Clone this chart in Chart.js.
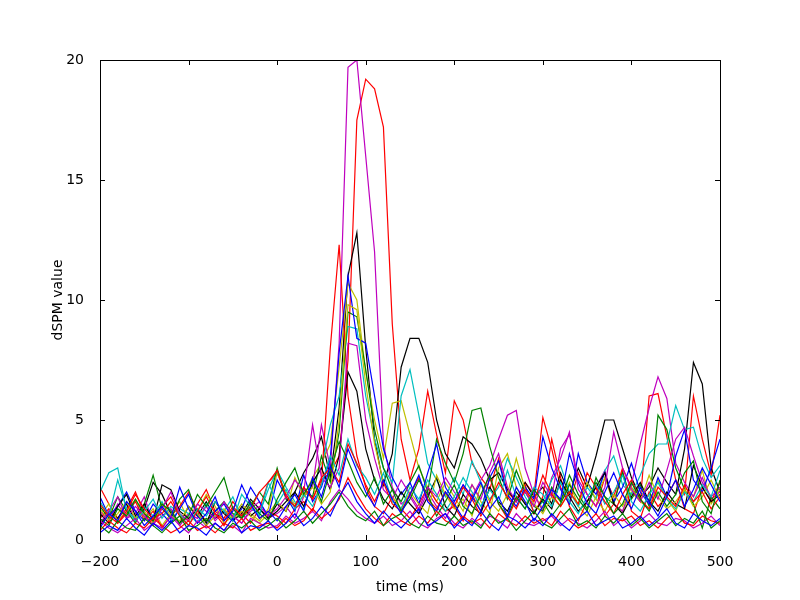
<!DOCTYPE html>
<html>
<head>
<meta charset="utf-8">
<script src="https://cdn.jsdelivr.net/npm/chart.js@4/dist/chart.umd.min.js"></script>
<style>
  body { margin: 0; background: #fff; }
  #chart { display: block; }
</style>
</head>
<body>
<canvas id="chart" width="800" height="600"></canvas>
<script>
// time axis, 10 ms steps from -200 to 500
const times = [];
for (let t = -200; t <= 500; t += 10) times.push(t);

const xTicks = [-200, -100, 0, 100, 200, 300, 400, 500];
const yTicks = [0, 5, 10, 15, 20];

// source time courses
const magentaPeak = [1.2,0.8,1.5,0.9,1.1,1.8,0.7,1.0,1.3,0.6,1.1,0.9,1.4,0.8,1.2,1.0,0.7,1.3,1.6,0.9,
  1.1,1.4,0.9,1.8,2.2,4.8,3.0,8.2,19.7,20.0,16.0,12.0,4.0,2.2,1.5,1.8,1.2,2.0,1.4,0.9,
  1.6,2.3,1.8,2.5,3.1,4.2,5.2,5.4,3.0,1.9, 1.2,2.6,3.4,4.5,2.1,1.6,2.2,2.9,1.5,1.2,
  2.3,4.0,5.5,6.8,5.9,3.2,2.4,1.8,2.6,1.7,2.0];
const redPeak = [2.2,1.5,0.9,1.3,2.0,1.1,0.6,1.4,1.8,1.0,0.8,1.5,2.1,1.2,0.9,1.6,1.1,0.7,1.3,2.4,
  2.8,1.9,1.4,2.2,1.7,2.5,2.8,3.5,7.5,17.5,19.2,18.8,17.2,9.0,4.2,2.5,3.8,6.2,4.4,2.8,
  5.8,5.0,3.2,2.6,2.1,3.4,2.0,1.6,2.4,1.9, 5.1,3.8,2.2,1.5,2.8,1.9,1.4,2.6,1.8,3.0,
  2.2,1.6,6.0,6.1,4.3,2.5,1.9,6.0,4.2,2.7,5.2];
const redEarly = [0.9,1.3,0.7,1.1,1.6,0.8,1.2,0.5,1.0,1.4,2.0,1.2,0.8,1.1,0.6,1.3,1.0,1.5,0.9,1.2,
  1.0,0.7,1.3,1.6,1.2,2.4,8.0,12.3,6.0,3.5,2.2,1.4,1.1,1.8,1.3,0.9,1.5,2.2,1.6,1.2,
  1.4,0.8,1.9,1.2,2.6,1.5,0.9,1.7,2.3,1.1, 1.8,4.2,2.6,1.4,0.8,1.6,2.2,1.0,1.5,2.9,
  1.2,0.9,2.0,1.4,1.8,2.5,1.3,1.1,2.2,1.6,2.4];
const blackPeak = [0.6,1.2,0.9,1.5,0.8,1.3,2.4,1.9,1.1,0.7,1.4,1.0,1.6,0.9,1.2,0.8,1.1,1.7,1.3,0.9,
  1.5,1.2,2.0,2.8,3.4,4.3,2.6,5.5,11.0,12.8,8.0,4.2,2.3,3.6,7.2,8.4,8.4,7.4,5.0,3.6,
  3.0,4.3,4.0,3.4,2.5,2.8,2.1,1.6,2.4,1.8, 2.2,1.5,2.8,1.9,3.0,2.2,3.5,5.0,5.0,3.8,
  2.6,1.8,2.2,3.0,2.4,1.9,3.8,7.4,6.5,3.0,2.0];
const bluePeak = [1.8,1.0,1.4,2.0,1.2,0.8,1.5,1.1,0.7,1.3,1.9,1.0,0.6,1.2,1.5,0.9,1.3,2.2,1.6,1.0,
  2.5,1.8,1.2,2.7,1.6,2.2,3.4,7.8,11.0,8.4,8.2,6.0,3.8,2.6,1.9,2.4,1.5,2.8,4.0,2.2,
  1.6,2.3,1.8,1.2,2.6,3.3,1.9,1.4,2.2,1.7, 4.3,3.0,2.1,1.5,3.6,2.4,1.9,2.8,1.6,2.2,
  3.2,2.0,1.5,2.6,1.8,3.5,4.6,2.5,2.0,3.0,4.2];
const yellowPeak = [1.0,1.5,0.8,1.2,1.7,0.9,1.3,0.6,1.1,1.6,0.8,1.2,1.9,1.4,0.7,1.0,1.5,1.1,0.8,1.3,
  2.8,2.0,1.5,1.8,2.6,3.2,4.0,7.2,10.7,10.0,7.0,5.0,3.4,5.7,5.8,4.4,3.0,2.2,1.6,2.4,
  1.8,1.2,2.3,1.6,1.1,3.0,3.6,2.2,1.5,1.9, 1.3,2.0,1.6,2.4,1.4,1.0,1.8,2.6,1.5,1.2,
  2.0,1.6,1.3,2.5,1.7,1.2,2.2,1.8,2.9,1.5,2.1];
const cyanPeak = [2.0,2.8,3.0,1.2,0.9,1.4,1.0,1.6,0.8,1.3,1.1,0.7,1.5,1.0,1.2,1.8,0.9,1.3,1.1,2.1,
  2.9,2.2,1.6,1.3,2.4,3.0,4.8,6.0,8.9,8.8,6.0,4.2,3.0,2.4,6.0,7.1,5.2,3.2,2.5,1.8,
  2.6,1.9,3.3,2.4,1.7,2.2,3.4,2.6,1.8,1.2, 1.6,2.5,3.1,2.0,1.4,2.2,1.7,2.9,3.5,2.3,
  1.9,2.7,3.6,4.0,4.0,5.6,4.6,4.7,3.4,2.6,3.1];
const greenPeak = [1.4,0.9,1.8,1.2,0.7,1.5,2.7,1.3,0.9,1.7,2.1,1.0,0.8,1.2,1.6,1.1,0.9,1.4,2.0,1.5,
  3.0,1.7,1.4,2.1,1.8,3.5,2.4,4.5,9.5,9.3,7.1,4.6,3.0,2.1,1.6,2.4,3.1,2.0,4.2,3.2,
  2.4,3.6,5.4,5.5,3.9,2.6,1.7,2.9,2.0,1.4, 1.2,2.2,1.6,2.7,1.9,1.3,2.4,1.8,1.5,2.8,
  1.7,2.3,1.4,5.2,4.6,3.0,2.1,1.5,0.5,1.8,1.3];
const blueLow = [0.5,1.1,0.8,1.6,1.2,0.6,1.0,1.4,0.9,2.2,1.3,0.7,1.1,1.8,0.8,1.2,2.3,1.5,0.9,1.2,
  0.8,1.4,1.9,1.2,2.6,1.8,3.1,2.2,3.8,2.9,2.0,1.4,2.5,1.7,1.1,1.9,2.7,1.6,1.2,2.0,
  1.5,0.9,1.7,2.4,1.3,1.8,1.0,2.2,1.6,0.8, 1.4,2.1,1.7,3.6,2.4,1.5,1.1,2.0,2.8,1.9,
  1.3,2.2,1.6,1.0,1.8,2.5,1.4,2.1,3.0,2.3,1.6];
const greenLow = [0.9,0.6,1.3,1.0,1.7,1.1,0.8,1.5,1.2,0.7,1.0,1.9,1.4,2.0,2.6,1.3,0.9,1.6,1.1,0.8,
  1.7,2.4,3.0,1.9,2.5,1.6,2.9,4.1,3.3,2.4,1.8,2.6,1.5,2.1,1.2,1.7,2.5,1.9,1.0,1.6,
  2.3,1.4,1.1,1.9,2.7,1.5,1.0,1.8,1.3,2.1, 1.6,1.0,1.5,2.3,1.7,1.2,2.6,1.8,1.1,1.5,
  2.4,1.7,1.2,2.0,1.4,1.9,2.8,3.3,1.6,1.1,2.5];
const cyanLow = [1.6,1.0,2.5,1.3,0.8,1.2,1.7,0.9,1.4,1.1,0.6,1.3,1.0,1.6,1.2,0.8,1.9,1.4,1.0,2.4,
  1.5,2.1,1.3,1.9,1.4,2.3,3.5,2.7,4.2,3.1,2.6,1.9,2.8,1.6,1.3,2.2,1.7,2.5,1.9,1.2,
  1.8,2.6,2.0,1.4,2.1,1.6,2.9,1.8,1.3,2.2, 1.9,1.4,2.4,1.6,1.1,1.8,2.3,1.5,2.0,2.7,
  1.6,1.2,1.9,2.4,1.7,1.3,2.0,1.6,2.3,1.8,2.9];
const magentaLow = [0.7,1.2,1.8,0.9,1.4,1.0,0.6,1.3,2.0,1.1,0.8,1.5,1.2,0.9,1.6,1.0,0.7,1.2,1.4,1.0,
  1.3,1.8,2.5,2.0,4.8,2.6,2.2,3.0,8.2,8.1,5.0,3.4,2.1,1.7,2.5,1.9,1.3,2.2,1.8,2.6,
  2.0,1.5,2.3,1.7,2.8,3.6,2.2,1.6,2.0,1.4, 2.4,1.8,3.8,4.4,2.5,1.9,1.4,2.2,4.5,3.0,
  2.1,1.6,2.4,1.7,2.9,4.2,4.7,3.5,2.4,1.8,2.2];
const yellowLow = [1.3,0.8,1.1,1.6,0.9,1.2,0.7,1.5,1.0,0.8,1.4,1.1,0.6,1.0,1.3,0.9,1.2,1.0,0.7,1.1,
  1.6,1.2,2.6,1.8,2.2,1.5,2.0,5.0,9.8,9.6,6.5,4.0,2.4,1.8,1.3,2.0,1.5,1.1,2.7,1.9,
  1.3,1.7,1.0,2.3,1.6,1.2,1.9,3.4,2.1,1.5, 1.1,1.8,1.4,2.0,1.5,2.4,1.7,1.2,1.9,1.4,
  2.2,1.6,2.7,1.8,1.3,1.6,2.1,1.4,1.8,2.5,1.7];
const blackLow = [1.1,0.7,1.4,1.9,1.0,1.5,0.8,2.3,2.1,1.2,0.9,1.3,0.7,1.6,1.1,0.8,1.4,1.0,1.3,0.9,
  1.2,1.6,2.0,1.4,2.4,3.0,2.1,3.5,7.0,6.2,3.8,2.5,1.7,1.3,2.0,1.5,1.1,1.8,2.6,1.4,
  1.0,1.9,1.4,1.1,2.2,1.6,1.2,2.0,1.5,1.1, 1.7,1.3,2.5,1.8,1.2,1.6,2.2,2.8,1.5,1.1,
  1.8,2.4,1.6,1.2,2.0,1.5,1.3,3.1,2.2,1.6,1.9];
const redLow = [1.5,1.0,0.7,1.2,1.9,1.3,0.9,1.1,1.6,1.0,0.6,1.2,1.8,1.1,0.8,1.4,1.0,1.3,2.0,2.4,
  2.9,1.8,1.4,2.2,1.7,2.6,3.0,2.4,4.0,3.2,2.3,1.6,2.4,1.5,1.2,1.9,2.6,1.7,1.3,2.0,
  1.4,2.2,1.7,1.0,1.6,2.4,1.8,1.3,2.1,1.6, 2.7,1.9,1.4,2.0,1.5,2.8,2.2,1.6,1.1,1.9,
  2.5,1.7,1.3,2.2,1.8,1.4,2.3,1.6,2.0,1.3,1.8];
const blueFloor = [0.3,0.6,0.4,0.9,0.5,0.2,0.7,0.4,0.8,0.3,0.6,0.5,0.2,0.7,0.4,0.9,0.3,0.6,0.5,0.8,
  0.4,0.7,1.1,0.6,0.9,1.4,1.0,1.8,2.4,1.6,1.1,0.7,1.2,0.8,0.5,0.9,1.3,0.6,0.8,1.1,
  0.5,0.9,0.6,1.2,0.7,0.4,1.0,0.8,0.5,0.9, 0.6,1.1,0.7,0.4,0.9,1.2,0.6,0.8,1.0,0.5,
  0.7,1.0,0.6,0.9,1.3,0.7,0.5,1.1,0.8,0.6,0.9];
const greenFloor = [0.6,0.3,0.8,0.5,0.4,0.9,0.6,0.3,0.7,1.0,0.4,0.6,0.9,0.5,0.3,0.7,0.5,0.8,0.4,0.6,
  0.9,0.5,0.8,1.2,0.7,1.1,1.5,2.0,1.4,1.0,0.8,1.2,0.6,0.9,1.1,0.7,0.5,1.0,0.7,0.6,
  1.0,0.6,0.8,0.5,1.1,0.7,0.9,0.4,0.8,1.2, 0.7,0.5,0.9,1.3,0.6,0.8,0.5,1.0,0.7,1.1,
  0.6,0.9,0.5,0.8,1.1,0.6,0.9,0.7,1.2,0.5,0.8];
const redFloor = [0.4,0.8,0.5,0.3,0.7,0.5,0.9,0.6,0.3,0.5,0.8,0.4,0.6,0.3,0.7,0.5,0.9,0.4,0.6,0.7,
  0.5,0.9,0.6,0.8,1.3,0.9,1.2,1.7,2.6,1.9,1.3,0.9,0.6,1.1,0.8,0.6,1.0,0.7,1.2,0.8,
  0.6,1.0,0.7,0.9,0.5,1.1,0.8,0.6,1.0,0.7, 0.9,0.6,1.2,0.8,0.5,0.7,1.1,0.6,0.9,0.8,
  1.0,0.6,0.8,0.5,0.9,1.2,0.7,0.6,1.0,0.8,0.7];
const magentaFloor = [0.8,0.5,0.3,0.6,0.9,0.4,0.7,0.5,1.0,0.6,0.3,0.8,0.5,0.7,0.4,0.6,0.3,0.9,0.7,0.5,
  0.6,1.0,0.7,0.9,1.2,0.8,1.6,2.1,1.7,1.2,0.9,0.7,1.0,0.6,0.8,1.2,0.7,0.5,0.9,1.1,
  0.7,0.5,0.9,0.6,1.0,0.8,0.5,1.1,0.7,0.6, 0.8,1.0,0.6,0.9,0.7,0.5,0.8,1.2,0.6,0.9,
  0.5,0.8,1.1,0.7,0.6,0.9,0.8,0.5,0.7,1.0,0.6];

// matplotlib classic colour cycle
const series = [
  [blueFloor, '#0000ff'], [greenFloor, '#008000'], [redFloor, '#ff0000'], [magentaFloor, '#bf00bf'],
  [blueLow, '#0000ff'], [greenLow, '#008000'], [redLow, '#ff0000'], [cyanLow, '#00bfbf'],
  [magentaLow, '#bf00bf'], [yellowLow, '#bfbf00'], [blackLow, '#000000'],
  [bluePeak, '#0000ff'], [greenPeak, '#008000'], [redEarly, '#ff0000'], [cyanPeak, '#00bfbf'],
  [magentaPeak, '#bf00bf'], [yellowPeak, '#bfbf00'], [blackPeak, '#000000'], [redPeak, '#ff0000']
];

const datasets = series.map(([vals, color]) => ({
  data: vals.map((v, i) => ({ x: times[i], y: v })),
  borderColor: color,
  borderWidth: 1.2,
  pointRadius: 0,
  tension: 0,
  fill: false
}));

// frame and inward ticks like matplotlib
const frame = {
  id: 'frame',
  afterDraw(chart) {
    const { ctx, chartArea: a, scales } = chart;
    ctx.save();
    ctx.strokeStyle = '#000';
    ctx.lineWidth = 1;
    ctx.strokeRect(a.left + 0.5, a.top + 0.5, a.right - a.left, a.bottom - a.top);
    ctx.beginPath();
    xTicks.forEach(t => {
      const x = Math.round(scales.x.getPixelForValue(t)) + 0.5;
      ctx.moveTo(x, a.bottom); ctx.lineTo(x, a.bottom - 5);
      ctx.moveTo(x, a.top); ctx.lineTo(x, a.top + 5);
    });
    yTicks.forEach(t => {
      const y = Math.round(scales.y.getPixelForValue(t)) + 0.5;
      ctx.moveTo(a.left, y); ctx.lineTo(a.left + 5, y);
      ctx.moveTo(a.right, y); ctx.lineTo(a.right - 5, y);
    });
    ctx.stroke();
    ctx.restore();
  }
};

Chart.defaults.font.family = '"DejaVu Sans", sans-serif';
Chart.defaults.font.size = 14;
Chart.defaults.color = '#000';

new Chart(document.getElementById('chart'), {
  type: 'line',
  data: { datasets },
  options: {
    responsive: false,
    animation: false,
    layout: { padding: { top: 60, right: 80, left: 46, bottom: 0 } },
    plugins: { legend: { display: false }, tooltip: { enabled: false } },
    scales: {
      x: {
        type: 'linear', min: -200, max: 500,
        afterBuildTicks: s => { s.ticks = xTicks.map(v => ({ value: v })); },
        afterFit: s => { s.height = 60; },
        grid: { display: false },
        border: { display: false },
        ticks: { padding: 6, callback: v => String(v).replace('-', '\u2212') },
        title: { display: true, text: 'time (ms)', padding: { top: 2 } }
      },
      y: {
        min: 0, max: 20,
        afterBuildTicks: s => { s.ticks = yTicks.map(v => ({ value: v })); },
        afterFit: s => { s.width = 54; },
        grid: { display: false },
        border: { display: false },
        ticks: { padding: 8 },
        title: { display: true, text: 'dSPM value', padding: { bottom: 4 } }
      }
    }
  },
  plugins: [frame]
});
</script>
</body>
</html>
